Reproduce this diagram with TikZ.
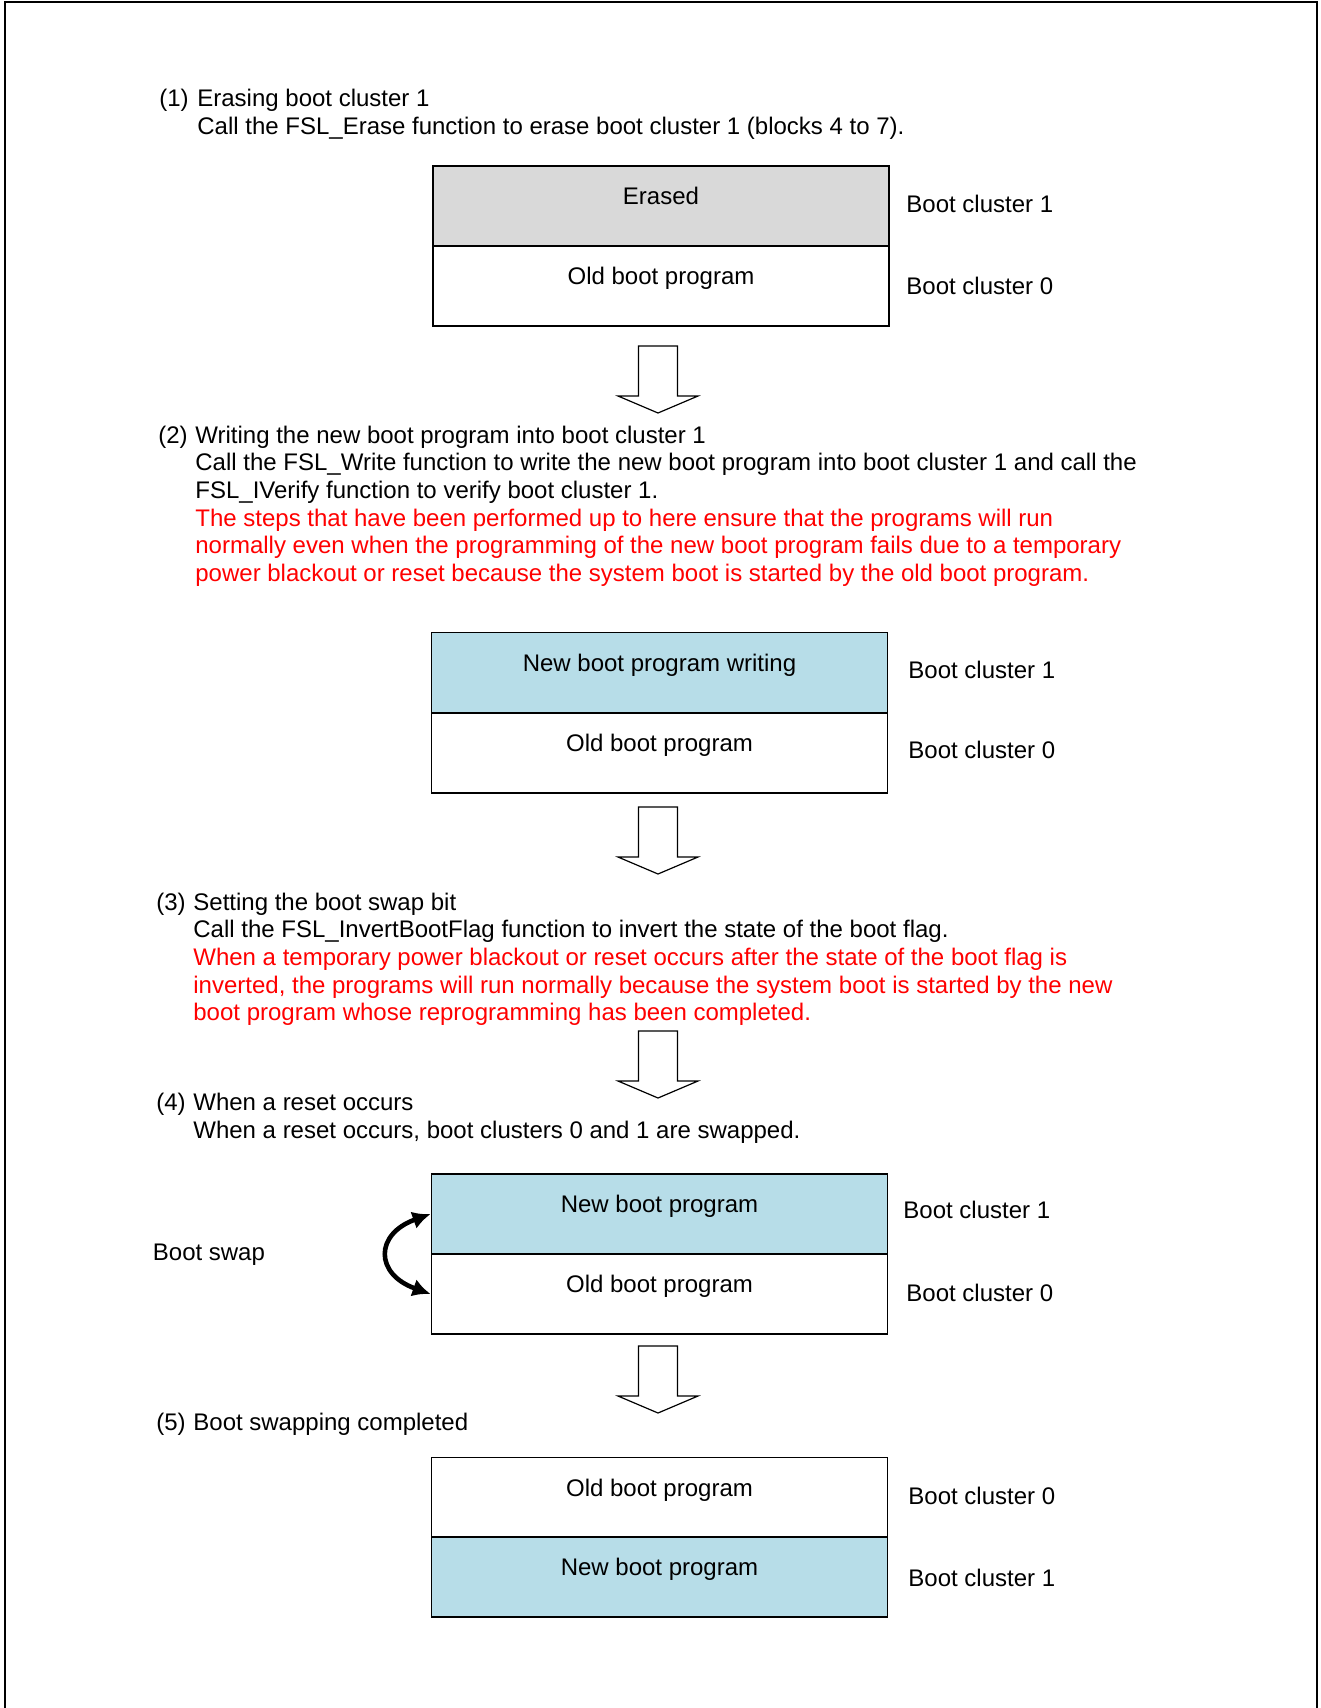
\documentclass[tikz,border=0pt]{standalone}
\usepackage{fontspec}
\setmainfont{Liberation Sans}
\usetikzlibrary{arrows.meta}
\definecolor{erasegray}{RGB}{217,217,217}
\definecolor{newblue}{RGB}{183,221,232}
\tikzset{
  cell/.style={draw, line width=0.9pt, minimum width=228pt, minimum height=40pt,
    inner sep=0pt, text height=8pt, text depth=9.5pt},
  clabel/.style={anchor=base west, inner sep=0pt},
  % multi-line nodes: base is the last line
  steptext/.style={anchor=base west, align=left, inner sep=0pt},
  swaparrow/.style={line width=2.3pt, {Latex[length=9pt,width=9pt]}-{Latex[length=9pt,width=9pt]}},
  downarrow/.pic={
    \draw[line width=0.6pt] (-19.5,0)--(-19.5,50)--(-40,50)--(0,67)--(40,50)--(19.5,50)--(19.5,0)--cycle;
  }
}
\begin{document}
\begin{tikzpicture}[x=0.5pt, y=-0.5pt, font=\fontsize{12}{13.85}\selectfont]
\useasboundingbox (0,0) rectangle (1321,1708);
% frame, open at the bottom
\draw[line width=1pt] (5,1708)--(5,2)--(1317,2)--(1317,1708);

% (1)
\node[steptext] (n1) at (159,106.6) {(1)};
\node[steptext] (t1) at (197,134.3) {Erasing boot cluster 1\\Call the FSL\_Erase function to erase boot cluster 1 (blocks 4 to 7).};
\node[cell, fill=erasegray] (e1) at (661,206) {Erased};
\node[cell] (o1) at (661,286) {Old boot program};
\node[clabel] (l1a) at (906,212) {Boot cluster 1};
\node[clabel] (l1b) at (906,294) {Boot cluster 0};
\pic at (658,346) {downarrow};

% (2)
\node[steptext] (n2) at (158,443) {(2)};
\node[steptext] (t2) at (195,581.5) {Writing the new boot program into boot cluster 1\\
  Call the FSL\_Write function to write the new boot program into boot cluster 1 and call the\\
  FSL\_IVerify function to verify boot cluster 1.\\
  \textcolor{red}{The steps that have been performed up to here ensure that the programs will run}\\
  \textcolor{red}{normally even when the programming of the new boot program fails due to a temporary}\\
  \textcolor{red}{power blackout or reset because the system boot is started by the old boot program.}};
\node[cell, fill=newblue] (w2) at (659.5,672.5) {New boot program writing};
\node[cell] (o2) at (659.5,753) {Old boot program};
\node[clabel] (l2a) at (908,678) {Boot cluster 1};
\node[clabel] (l2b) at (908,758) {Boot cluster 0};
\pic at (658,807) {downarrow};

% (3)
\node[steptext] (n3) at (156,910) {(3)};
\node[steptext] (t3) at (193,1020.8) {Setting the boot swap bit\\
  Call the FSL\_InvertBootFlag function to invert the state of the boot flag.\\
  \textcolor{red}{When a temporary power blackout or reset occurs after the state of the boot flag is}\\
  \textcolor{red}{inverted, the programs will run normally because the system boot is started by the new}\\
  \textcolor{red}{boot program whose reprogramming has been completed.}};
\pic at (658,1031) {downarrow};

% (4)
\node[steptext] (n4) at (156,1110.7) {(4)};
\node[steptext] (t4) at (193,1138.4) {When a reset occurs\\When a reset occurs, boot clusters 0 and 1 are swapped.};
\node[cell, fill=newblue] (nw4) at (659.5,1214) {New boot program};
\node[cell] (o4) at (659.5,1294) {Old boot program};
\node[clabel] (l4a) at (903,1218.5) {Boot cluster 1};
\node[clabel] (l4b) at (906,1301) {Boot cluster 0};
\node[clabel] (bs) at (152.5,1260) {Boot swap};
\draw[swaparrow] (nw4.west) .. controls +(-56,20) and +(-56,-20) .. (o4.west);
\pic at (658,1346) {downarrow};

% (5)
\node[steptext] (n5) at (156,1430) {(5)};
\node[steptext] (t5) at (193,1430) {Boot swapping completed};
\node[cell] (o5) at (659.5,1497.5) {Old boot program};
\node[cell, fill=newblue] (nw5) at (659.5,1577) {New boot program};
\node[clabel] (l5a) at (908,1504) {Boot cluster 0};
\node[clabel] (l5b) at (908,1586.5) {Boot cluster 1};
\end{tikzpicture}
\end{document}
